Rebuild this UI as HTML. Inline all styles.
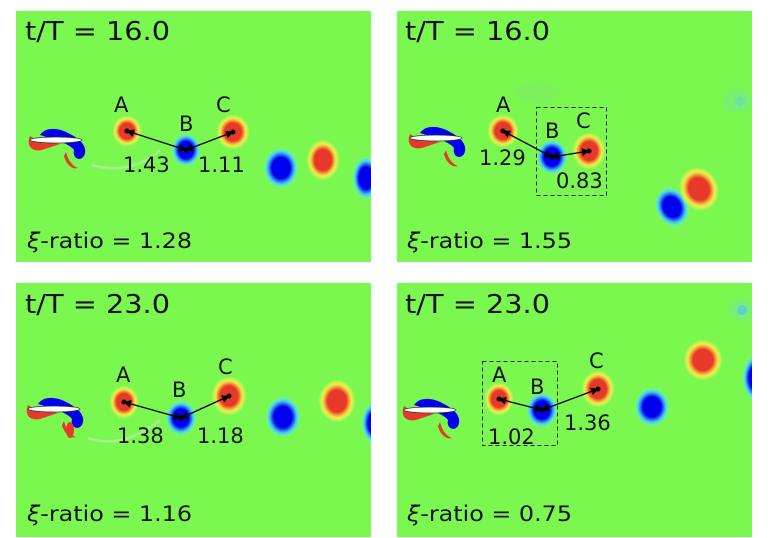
<!DOCTYPE html>
<html><head><meta charset="utf-8"><style>
html,body{margin:0;padding:0;background:#fff;}
svg{display:block;}
text{font-family:"DejaVu Sans","Liberation Sans",sans-serif;fill:#111;}
</style></head><body>
<svg width="770" height="538" viewBox="0 0 770 538" xmlns="http://www.w3.org/2000/svg">
<defs>
<radialGradient id="r"><stop offset="0" stop-color="#e8382a"/><stop offset="0.5" stop-color="#e8382a"/><stop offset="0.64" stop-color="#f3a030"/><stop offset="0.76" stop-color="#e8ee50"/><stop offset="0.9" stop-color="#b4f250"/><stop offset="1" stop-color="#7af84f" stop-opacity="0"/></radialGradient>
<radialGradient id="b"><stop offset="0" stop-color="#0000f0"/><stop offset="0.5" stop-color="#0000f0"/><stop offset="0.64" stop-color="#2a6cf0"/><stop offset="0.76" stop-color="#40d0e8"/><stop offset="0.9" stop-color="#70f0a0"/><stop offset="1" stop-color="#7af84f" stop-opacity="0"/></radialGradient>
<marker id="ah" viewBox="0 0 10 10" refX="9" refY="5" markerWidth="7" markerHeight="6" orient="auto-start-reverse"><path d="M0,0 L10,5 L0,10 z" fill="#000"/></marker>
<clipPath id="c1"><rect x="16" y="11" width="355" height="251"/></clipPath>
<clipPath id="c2"><rect x="397" y="11" width="355" height="251"/></clipPath>
<clipPath id="c3"><rect x="16" y="283" width="355" height="254"/></clipPath>
<clipPath id="c4"><rect x="397" y="283" width="355" height="254"/></clipPath>
<g id="fish">
<path d="M2,-5 C8,-14 22,-12 32,-6 C44,0 50,8 46,16 C42,22 34,18 36,10 C32,4 18,0 2,-5z" fill="#0000f0"/>
<path d="M-8,-4 C-12,6 -6,12 4,10 L22,4 L-2,0z" fill="#e8382a"/>
<path d="M28,12 C30,20 34,26 40,28 C34,30 28,24 26,16z" fill="#e8382a"/>
<ellipse cx="18" cy="0" rx="26" ry="3" fill="#fff" stroke="#333" stroke-width="0.8"/>
</g>
</defs>
<rect width="770" height="538" fill="#fff"/>

<!-- TL -->
<rect x="16" y="11" width="355" height="251" fill="#7af84f"/>
<g clip-path="url(#c1)">
<use href="#fish" x="38" y="140"/>
<path d="M92,165 C115,172 140,168 160,150" stroke="#a8ee90" stroke-width="2.5" fill="none"/>
<ellipse cx="127" cy="131" rx="15" ry="16" fill="url(#r)"/>
<ellipse cx="186" cy="150" rx="15" ry="17" fill="url(#b)"/>
<ellipse cx="233" cy="132" rx="17" ry="18" fill="url(#r)"/>
<ellipse cx="281" cy="168" rx="18" ry="21" fill="url(#b)"/>
<ellipse cx="323" cy="160" rx="17" ry="21" fill="url(#r)"/>
<ellipse cx="366" cy="178" rx="14" ry="22" fill="url(#b)"/>
</g>
<line x1="127" y1="131" x2="186" y2="150" stroke="#000" stroke-width="1.3" marker-start="url(#ah)" marker-end="url(#ah)"/>
<line x1="186" y1="150" x2="233" y2="132" stroke="#000" stroke-width="1.3" marker-start="url(#ah)" marker-end="url(#ah)"/>
<circle cx="127" cy="131" r="2.5"/><circle cx="186" cy="150" r="2.5"/><circle cx="233" cy="132" r="2.5"/>
<text x="114" y="112" font-size="21">A</text><text x="179" y="131" font-size="21">B</text><text x="216" y="112" font-size="21">C</text>
<text x="123" y="172" font-size="21">1.43</text><text x="198" y="172" font-size="21">1.11</text>
<text x="25" y="40" font-size="26" textLength="145" lengthAdjust="spacingAndGlyphs">t/T = 16.0</text>
<text x="27" y="248" font-size="21" textLength="165" lengthAdjust="spacingAndGlyphs"><tspan font-style="italic">ξ</tspan>-ratio = 1.28</text>

<!-- TR -->
<rect x="397" y="11" width="355" height="251" fill="#7af84f"/>
<g clip-path="url(#c2)">
<use href="#fish" x="418" y="138"/>
<ellipse cx="537" cy="92" rx="22" ry="10" fill="#80f064" opacity="0.7"/>
<ellipse cx="737" cy="101" rx="14" ry="12" fill="#78f070"/>
<ellipse cx="740" cy="101" rx="5" ry="5" fill="#70e0a0"/>
<ellipse cx="503" cy="131" rx="16" ry="17" fill="url(#r)"/>
<ellipse cx="552" cy="157" rx="16" ry="18" fill="url(#b)"/>
<ellipse cx="589" cy="151" rx="17" ry="19" fill="url(#r)"/>
<ellipse cx="672" cy="207" rx="17" ry="21" fill="url(#b)" transform="rotate(-25 672 207)"/>
<ellipse cx="699" cy="189" rx="20" ry="23" fill="url(#r)" transform="rotate(-25 699 189)"/>
</g>
<rect x="536.5" y="107.5" width="70" height="88" fill="none" stroke="#222" stroke-width="1" stroke-dasharray="4,3"/>
<line x1="503" y1="131" x2="552" y2="157" stroke="#000" stroke-width="1.3" marker-start="url(#ah)" marker-end="url(#ah)"/>
<line x1="552" y1="157" x2="589" y2="151" stroke="#000" stroke-width="1.3" marker-start="url(#ah)" marker-end="url(#ah)"/>
<circle cx="503" cy="131" r="2.5"/><circle cx="552" cy="157" r="2.5"/><circle cx="589" cy="151" r="2.5"/>
<text x="496" y="112" font-size="21">A</text><text x="545" y="138" font-size="21">B</text><text x="576" y="128" font-size="21">C</text>
<text x="479" y="165" font-size="21">1.29</text><text x="556" y="188" font-size="21">0.83</text>
<text x="405" y="40" font-size="26" textLength="145" lengthAdjust="spacingAndGlyphs">t/T = 16.0</text>
<text x="407" y="248" font-size="21" textLength="165" lengthAdjust="spacingAndGlyphs"><tspan font-style="italic">ξ</tspan>-ratio = 1.55</text>

<!-- BL -->
<rect x="16" y="283" width="355" height="254" fill="#7af84f"/>
<g clip-path="url(#c3)">
<use href="#fish" x="36" y="409"/>
<ellipse cx="70" cy="430" rx="4" ry="8" fill="#e8382a"/>
<path d="M88,438 C110,446 135,440 160,420" stroke="#a8ee90" stroke-width="2.5" fill="none"/>
<ellipse cx="124" cy="402" rx="15" ry="17" fill="url(#r)"/>
<ellipse cx="181" cy="418" rx="16" ry="18" fill="url(#b)"/>
<ellipse cx="229" cy="396" rx="18" ry="20" fill="url(#r)"/>
<ellipse cx="283" cy="417" rx="18" ry="21" fill="url(#b)"/>
<ellipse cx="337" cy="401" rx="19" ry="22" fill="url(#r)"/>
<ellipse cx="375" cy="423" rx="14" ry="22" fill="url(#b)"/>
</g>
<line x1="124" y1="402" x2="181" y2="418" stroke="#000" stroke-width="1.3" marker-start="url(#ah)" marker-end="url(#ah)"/>
<line x1="181" y1="418" x2="229" y2="396" stroke="#000" stroke-width="1.3" marker-start="url(#ah)" marker-end="url(#ah)"/>
<circle cx="124" cy="402" r="2.5"/><circle cx="181" cy="418" r="2.5"/><circle cx="229" cy="396" r="2.5"/>
<text x="116" y="382" font-size="21">A</text><text x="172" y="397" font-size="21">B</text><text x="218" y="374" font-size="21">C</text>
<text x="117" y="443" font-size="21">1.38</text><text x="197" y="443" font-size="21">1.18</text>
<text x="25" y="313" font-size="26" textLength="145" lengthAdjust="spacingAndGlyphs">t/T = 23.0</text>
<text x="27" y="521" font-size="21" textLength="165" lengthAdjust="spacingAndGlyphs"><tspan font-style="italic">ξ</tspan>-ratio = 1.16</text>

<!-- BR -->
<rect x="397" y="283" width="355" height="254" fill="#7af84f"/>
<g clip-path="url(#c4)">
<use href="#fish" x="412" y="410"/>
<ellipse cx="742" cy="310" rx="12" ry="11" fill="#78f070"/>
<ellipse cx="742" cy="310" rx="5" ry="5" fill="#60d0d0"/>
<ellipse cx="499" cy="399" rx="15" ry="17" fill="url(#r)"/>
<ellipse cx="542" cy="410" rx="16" ry="18" fill="url(#b)"/>
<ellipse cx="598" cy="389" rx="17" ry="19" fill="url(#r)"/>
<ellipse cx="652" cy="407" rx="18" ry="20" fill="url(#b)"/>
<ellipse cx="703" cy="360" rx="20" ry="21" fill="url(#r)"/>
<ellipse cx="756" cy="378" rx="14" ry="24" fill="url(#b)"/>
</g>
<rect x="482.5" y="361.5" width="75" height="84" fill="none" stroke="#222" stroke-width="1" stroke-dasharray="4,3"/>
<line x1="499" y1="399" x2="542" y2="410" stroke="#000" stroke-width="1.3" marker-start="url(#ah)" marker-end="url(#ah)"/>
<line x1="542" y1="410" x2="598" y2="389" stroke="#000" stroke-width="1.3" marker-start="url(#ah)" marker-end="url(#ah)"/>
<circle cx="499" cy="399" r="2.5"/><circle cx="542" cy="410" r="2.5"/><circle cx="598" cy="389" r="2.5"/>
<text x="492" y="382" font-size="21">A</text><text x="530" y="394" font-size="21">B</text><text x="589" y="368" font-size="21">C</text>
<text x="488" y="444" font-size="21">1.02</text><text x="564" y="430" font-size="21">1.36</text>
<text x="405" y="313" font-size="26" textLength="145" lengthAdjust="spacingAndGlyphs">t/T = 23.0</text>
<text x="407" y="521" font-size="21" textLength="165" lengthAdjust="spacingAndGlyphs"><tspan font-style="italic">ξ</tspan>-ratio = 0.75</text>
</svg>
</body></html>
